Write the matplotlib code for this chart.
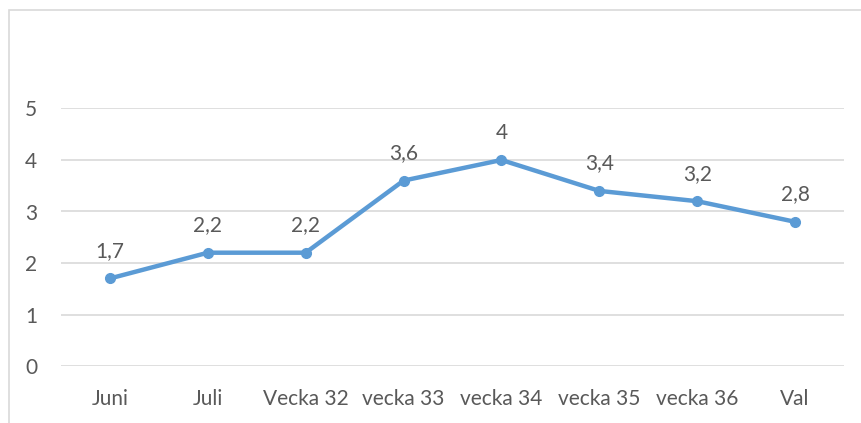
import matplotlib.pyplot as plt
from matplotlib.patches import Rectangle

kategorier = ['Juni', 'Juli', 'Vecka 32', 'vecka 33', 'vecka 34', 'vecka 35', 'vecka 36', 'Val']
varden = [1.7, 2.2, 2.2, 3.6, 4.0, 3.4, 3.2, 2.8]
etiketter = ['1,7', '2,2', '2,2', '3,6', '4', '3,4', '3,2', '2,8']

plt.rcParams['font.family'] = ['Lato', 'DejaVu Sans']
textfarg = '#595959'
linjefarg = '#5B9BD5'

W, H = 861, 423
fig = plt.figure(figsize=(W / 100, H / 100), dpi=100)

# ram runt diagrammet (syns bara till vänster och upptill)
fig.patches.append(Rectangle((9 / W, -0.1), 1.2, (H - 10) / H + 0.1,
                             transform=fig.transFigure, fill=False,
                             edgecolor='#D9D9D9', linewidth=1.2))

ax = fig.add_axes([61 / W, 1 - 366 / H, (844 - 61) / W, (366 - 108.5) / H])
x = range(len(kategorier))
ax.plot(x, varden, color=linjefarg, linewidth=3.2, marker='o', markersize=7,
        solid_capstyle='round', zorder=3)

for xi, v, t in zip(x, varden, etiketter):
    ax.annotate(t, (xi, v), xytext=(0, 12.5), textcoords='offset points',
                ha='center', va='bottom', fontsize=15, color=textfarg)

ax.set_xlim(-0.5, len(kategorier) - 0.5)
ax.set_ylim(0, 5)
ax.set_yticks(range(6))
ax.set_xticks(list(x))
ax.set_xticklabels(kategorier)
ax.yaxis.grid(True, color='#D9D9D9', linewidth=1.2)
ax.set_axisbelow(True)
for s in ax.spines.values():
    s.set_visible(False)
ax.tick_params(axis='both', length=0, labelsize=15, labelcolor=textfarg)
ax.tick_params(axis='y', pad=17)
ax.tick_params(axis='x', pad=16.5)

fig.savefig('out.png', dpi=100)
